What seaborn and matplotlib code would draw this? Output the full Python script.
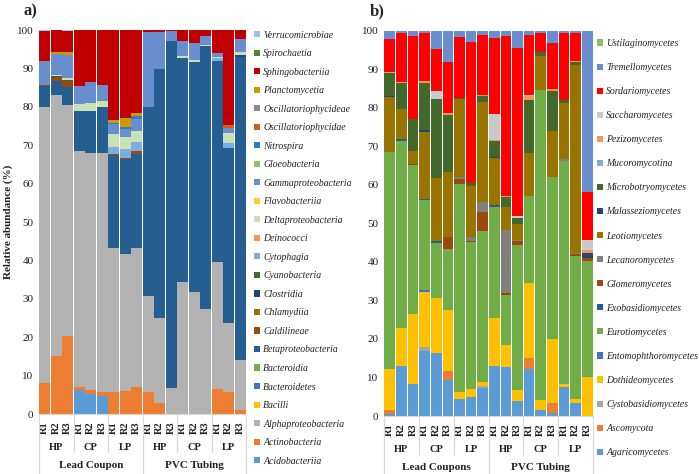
import numpy as np
import pandas as pd
import matplotlib.pyplot as plt
import seaborn as sns
from matplotlib.patches import Patch

# Categorias del eje x
reps = ['R1', 'R2', 'R3'] * 6
sites = ['HP', 'CP', 'LP', 'HP', 'CP', 'LP']
materials_a = ['Lead Coupon', 'PVC Tubing']
materials_b = ['Lead Coupons', 'PVC Tubing']

# a) clases bacterianas (%), de abajo hacia arriba
acidobacteriia = [0, 0, 0, 6.2, 5.1, 4.6, 0, 0, 0, 0, 0, 0, 0, 0, 0, 0, 0, 0]
actinobacteria = [8.1, 15.1, 20.3, 0.9, 1.1, 1.0, 5.8, 5.9, 7.1, 5.7, 2.9, 0, 0, 0, 0, 6.4, 5.6, 1.0]
alphaproteobacteria = [71.9, 68.1, 60.1, 61.5, 61.8, 62.4, 37.4, 35.7, 36.1, 25.1, 22.2, 6.7, 34.3, 31.9, 27.3, 33.2, 18.0, 13.0]
bacilli = [0] * 18
bacteroidetes = [0] * 18
bacteroidia = [0] * 18
betaproteobacteria = [5.3, 3.6, 4.8, 10.4, 11.0, 12.0, 24.2, 24.7, 24.5, 49.2, 64.8, 90.4, 58.5, 59.8, 68.6, 52.4, 45.8, 78.9]
caldilineae = [0.4, 0.8, 1.4, 0, 0, 0, 0.3, 0.3, 0.7, 0, 0, 0, 0, 0, 0, 0, 0, 0]
chlamydiia = [0] * 18
clostridia = [0, 0, 0, 0, 0, 0, 0, 0, 0, 0, 0, 0, 0, 0, 0, 0, 0, 0.6]
cyanobacteria = [0, 0.4, 0.4, 0, 0, 0, 0, 0, 0, 0, 0, 0, 0, 0, 0, 0, 0, 0]
cytophagia = [0, 0, 0, 0, 0, 0, 1.9, 2.3, 2.4, 0, 0, 0, 0, 0, 0, 0.6, 1.2, 0]
deinococci = [0] * 18
deltaproteobacteria = [0, 0.3, 0.4, 1.8, 2.1, 1.5, 3.2, 3.2, 2.9, 0, 0, 0, 0.3, 0.4, 0.3, 0.4, 2.7, 0.9]
flavobacteriia = [0] * 18
gammaproteobacteria = [6.1, 5.5, 6.2, 4.6, 5.3, 4.3, 2.6, 2.0, 3.1, 19.6, 9.7, 2.7, 4.1, 4.5, 2.2, 0.9, 1.3, 3.2]
gloeobacteria = [0] * 18
nitrospira = [0, 0, 0, 0, 0, 0, 0.5, 0.6, 0.8, 0, 0, 0, 0, 0, 0, 0, 0, 0]
oscillatoriophycidae = [0, 0, 0, 0, 0, 0, 0, 0, 0, 0, 0, 0, 0, 0, 0, 0.2, 0.7, 0]
oscillatoriophycideae = [0] * 18
planctomycetia = [0.2, 0.5, 0.6, 0, 0, 0, 0.7, 2.5, 0.8, 0, 0, 0, 0, 0, 0, 0, 0, 0]
sphingobacteriia = [7.8, 5.7, 5.6, 14.6, 13.6, 14.2, 23.4, 22.8, 21.6, 0.4, 0.4, 0.2, 2.8, 3.4, 1.6, 5.9, 24.7, 2.4]
spirochaetia = [0] * 18
verrucomicrobiae = [0.2, 0, 0.2, 0, 0, 0, 0, 0, 0, 0, 0, 0, 0, 0, 0, 0, 0, 0]

# b) clases de hongos (%), de abajo hacia arriba
agaricomycetes = [0.6, 13.0, 8.4, 16.8, 16.3, 9.4, 4.3, 5.0, 7.3, 13.0, 12.8, 3.9, 12.2, 1.6, 0.8, 7.6, 3.3, 0]
ascomycota = [0.9, 0, 0, 0, 0, 2.3, 0, 0, 0, 0, 0, 0, 2.8, 0, 2.5, 0, 0, 0]
cystobasidiomycetes = [0, 0, 0, 1.0, 0, 0, 0, 0, 0.6, 0, 0, 0, 0, 0, 0, 0, 0, 0]
dothideomycetes = [10.7, 9.9, 18.2, 14.5, 14.4, 15.8, 1.9, 2.0, 0.8, 12.4, 5.6, 2.9, 19.4, 2.6, 16.6, 0.6, 1.2, 10.0]
entomophthoromycetes = [0, 0, 0, 0.3, 0, 0, 0, 0, 0, 0, 0, 0, 0, 0, 0, 0, 0, 0]
eurotiomycetes = [56.4, 48.6, 38.6, 23.4, 14.1, 15.8, 53.9, 38.2, 39.3, 28.9, 13.0, 37.6, 22.6, 80.5, 42.2, 58.1, 37.0, 30.3]
exobasidiomycetes = [0, 0.3, 0, 0.4, 0.6, 0, 0, 0, 0, 0.4, 0, 0, 0, 0, 0, 0, 0, 0]
glomeromycetes = [0, 0, 0.3, 0, 0, 3.2, 1.3, 0.3, 4.9, 0, 0.4, 0.9, 0, 0, 0, 0, 0.5, 0.6]
lecanoromycetes = [0, 0, 0, 0, 0, 0, 0.7, 0.9, 2.7, 0, 16.6, 0.4, 0, 0, 0, 0.3, 0.4, 0]
leotiomycetes = [14.3, 7.8, 3.3, 17.4, 16.3, 16.7, 20.1, 13.4, 26.0, 12.2, 5.8, 4.1, 11.2, 8.8, 11.8, 14.7, 48.8, 0]
malasseziomycetes = [0.2, 0, 0, 0.4, 0, 0.2, 0, 0, 0, 0.3, 0, 0, 0, 0, 0, 0, 0, 1.5]
microbotryomycetes = [6.0, 6.8, 8.2, 12.2, 20.5, 14.7, 0.3, 0.6, 1.5, 4.2, 2.7, 1.5, 13.8, 0.9, 10.4, 0.6, 0.7, 0]
mucoromycotina = [0] * 18
pezizomycetes = [0.3, 0.2, 0.2, 0.6, 0, 0.6, 0, 0, 0.2, 0.3, 0.2, 0.2, 1.0, 0, 0.5, 0, 0.3, 0.7]
saccharomycetes = [0, 0, 0, 0, 2.2, 0, 0, 0, 0, 6.7, 0, 0.3, 0.4, 0, 0, 0, 0, 2.6]
sordariomycetes = [8.4, 12.8, 21.4, 12.4, 10.8, 13.1, 15.9, 36.7, 15.5, 19.8, 41.5, 43.6, 15.6, 5.0, 12.1, 17.5, 7.2, 12.5]
tremellomycetes = [2.2, 0.6, 1.4, 0.6, 4.8, 8.2, 1.6, 2.9, 1.2, 1.8, 1.4, 4.6, 1.0, 0.6, 3.1, 0.6, 0.6, 41.8]
ustilaginomycetes = [0] * 18

bact_names = ['Acidobacteriia', 'Actinobacteria', 'Alphaproteobacteria', 'Bacilli', 'Bacteroidetes',
              'Bacteroidia', 'Betaproteobacteria', 'Caldilineae', 'Chlamydiia', 'Clostridia',
              'Cyanobacteria', 'Cytophagia', 'Deinococci', 'Deltaproteobacteria', 'Flavobacteriia',
              'Gammaproteobacteria', 'Gloeobacteria', 'Nitrospira', 'Oscillatoriophycidae',
              'Oscillatoriophycideae', 'Planctomycetia', 'Sphingobacteriia', 'Spirochaetia',
              'Verrucomicrobiae']
bact_values = [acidobacteriia, actinobacteria, alphaproteobacteria, bacilli, bacteroidetes,
               bacteroidia, betaproteobacteria, caldilineae, chlamydiia, clostridia,
               cyanobacteria, cytophagia, deinococci, deltaproteobacteria, flavobacteriia,
               gammaproteobacteria, gloeobacteria, nitrospira, oscillatoriophycidae,
               oscillatoriophycideae, planctomycetia, sphingobacteriia, spirochaetia,
               verrucomicrobiae]
bact_colors = ['#5B9BD5', '#ED7D31', '#B2B2B2', '#FFC000', '#4472C4',
               '#70AD47', '#255E91', '#9E480E', '#997300', '#264478',
               '#43682B', '#7CAFDD', '#F1975A', '#C9E2B4', '#FFCD33',
               '#698ED0', '#8CC168', '#327DC2', '#D26012',
               '#8B8B8B', '#CC9A00', '#C00000', '#548235',
               '#9DC3E6']

fungi_names = ['Agaricomycetes', 'Ascomycota', 'Cystobasidiomycetes', 'Dothideomycetes',
               'Entomophthoromycetes', 'Eurotiomycetes', 'Exobasidiomycetes', 'Glomeromycetes',
               'Lecanoromycetes', 'Leotiomycetes', 'Malasseziomycetes', 'Microbotryomycetes',
               'Mucoromycotina', 'Pezizomycetes', 'Saccharomycetes', 'Sordariomycetes',
               'Tremellomycetes', 'Ustilaginomycetes']
fungi_values = [agaricomycetes, ascomycota, cystobasidiomycetes, dothideomycetes,
                entomophthoromycetes, eurotiomycetes, exobasidiomycetes, glomeromycetes,
                lecanoromycetes, leotiomycetes, malasseziomycetes, microbotryomycetes,
                mucoromycotina, pezizomycetes, saccharomycetes, sordariomycetes,
                tremellomycetes, ustilaginomycetes]
fungi_colors = ['#5B9BD5', '#ED7D31', '#A5A5A5', '#FFC000',
                '#4472C4', '#70AD47', '#255E91', '#9E480E',
                '#7F7F7F', '#997300', '#264478', '#43682B',
                '#7CAFDD', '#F1975A', '#C9C9C9', '#FF0000',
                '#698ED0', '#8CC168']

sns.set_theme(style='white')
plt.rcParams['font.family'] = ['Liberation Serif', 'DejaVu Serif']

fig = plt.figure(figsize=(6.99, 4.74), dpi=100)
ax_a = fig.add_axes([39 / 699, 1 - 414 / 474, 207 / 699, 384 / 474])
ax_b = fig.add_axes([384 / 699, 1 - 416 / 474, 209 / 699, 385.3 / 474])
line_col = '#D9D9D9'


def stacked(ax, names, values, colors):
    pos = list(range(len(reps)))
    base = np.zeros(len(reps))
    for name, vals, col in zip(names, values, colors):
        sns.barplot(x=pos, y=vals, bottom=base.copy(), color=col, saturation=1,
                    width=0.92, linewidth=0, errorbar=None, ax=ax)
        base = base + np.array(vals)

    ax.set_ylim(0, 100)
    ax.set_xlim(-0.5, len(reps) - 0.5)
    ax.set_yticks(range(0, 101, 10))
    ax.set_yticklabels([str(v) for v in range(0, 101, 10)], fontsize=8)
    ax.set_xticks(pos)
    ax.set_xticklabels(reps, rotation=90, fontsize=7.5, fontweight='bold')
    ax.tick_params(axis='both', length=0, colors='#222222')
    ax.tick_params(axis='x', pad=5)
    ax.tick_params(axis='y', pad=4)
    ax.set_xlabel('')
    ax.set_ylabel('')
    for s in ['top', 'right', 'left']:
        ax.spines[s].set_visible(False)
    ax.spines['bottom'].set_color(line_col)
    ax.spines['bottom'].set_linewidth(0.8)


def group_labels(ax, mains):
    trans = ax.get_xaxis_transform()
    for i, s in enumerate(sites):
        ax.text(3 * i + 1, -0.086, s, transform=trans, ha='center', va='center',
                fontsize=7.5, fontweight='bold', color='#222222')
    for j, m in enumerate(mains):
        ax.text(9 * j + 4, -0.133, m, transform=trans, ha='center', va='center',
                fontsize=8, fontweight='bold', color='#222222')
    for b in [2.5, 5.5, 11.5, 14.5]:
        ax.plot([b, b], [0, -0.1], transform=trans, color=line_col, lw=0.9, clip_on=False)
    for b in [-0.5, 8.5, 17.5]:
        ax.plot([b, b], [0, -0.16], transform=trans, color=line_col, lw=0.9, clip_on=False)


def add_legend(ax, names, colors, x, y, spacing):
    handles = [Patch(facecolor=c, edgecolor='none', label=n) for n, c in zip(names, colors)]
    leg = ax.legend(handles=handles[::-1], loc='upper left', bbox_to_anchor=(x, y),
                    bbox_transform=fig.transFigure, frameon=False, fontsize=7,
                    handlelength=0.6, handleheight=0.6, handletextpad=0.35,
                    labelspacing=spacing, borderpad=0, borderaxespad=0)
    for t in leg.get_texts():
        t.set_fontstyle('italic')
        t.set_color('#222222')


stacked(ax_a, bact_names, bact_values, bact_colors)
stacked(ax_b, fungi_names, fungi_values, fungi_colors)
group_labels(ax_a, materials_a)
group_labels(ax_b, materials_b)
add_legend(ax_a, bact_names, bact_colors, 254 / 699, 1 - 30.5 / 474, 0.98)
add_legend(ax_b, fungi_names, fungi_colors, 597 / 699, 1 - 39 / 474, 1.55)

fig.text(8 / 699, 1 - 222 / 474, 'Relative abundance (%)', fontsize=8, fontweight='bold',
         rotation=90, ha='center', va='center', color='#222222')

fig.text(24 / 699, 1 - 11 / 474, 'a)', fontsize=12, fontweight='bold', va='center')
fig.text(370 / 699, 1 - 11 / 474, 'b)', fontsize=12, fontweight='bold', va='center')

fig.savefig('out.png', dpi=100)
